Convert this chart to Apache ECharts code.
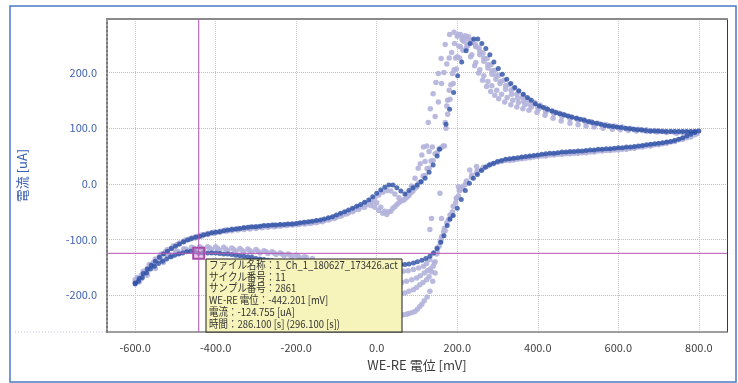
<!DOCTYPE html>
<html>
<head>
<meta charset="utf-8">
<script src="https://cdn.jsdelivr.net/npm/echarts@6/dist/echarts.min.js"></script>
<style>
  html, body { margin: 0; padding: 0; background: #fff; }
  #chart { width: 738px; height: 383px; }
</style>
</head>
<body>
<div id="chart"></div>
<script>
// values: [potential mV, current uA]

// current cycle (dark), forward sweep -600 -> 800
const darkForward = [
  [-600,-178],[-590,-170],[-580,-161],[-570,-153],[-560,-146],[-550,-139],[-540,-132],[-530,-126],[-520,-121],[-510,-116],
  [-500,-112],[-490,-108],[-480,-104],[-470,-101],[-460,-98],[-450,-96],[-440,-94],[-430,-92],[-420,-90],[-410,-88],
  [-400,-87],[-390,-86],[-380,-84],[-370,-83],[-360,-82],[-350,-81],[-340,-80],[-330,-79],[-320,-78],[-310,-77],
  [-300,-77],[-290,-76],[-280,-75],[-270,-75],[-260,-74],[-250,-74],[-240,-73],[-230,-73],[-220,-72],[-210,-72],
  [-200,-71],[-190,-70],[-180,-69],[-170,-68],[-160,-67],[-150,-66],[-140,-65],[-130,-63],[-120,-61],[-110,-59],
  [-100,-56],[-90,-53],[-80,-50],[-70,-47],[-60,-44],[-50,-40],[-40,-37],[-30,-33],[-20,-29],[-10,-23],
  [0,-17],[10,-11],[20,-6],[30,-2],[40,-2],[50,-7],[60,-13],[70,-18],[80,-12],[90,-7],
  [100,-2],[110,4],[120,10],[130,21],[140,34],[150,50],[156,62],[172,107],[181,134],[191,164],
  [201,194],[211,219],[222,239],[232,252],[241,260],[251,260],[261,252],[271,243],[281,232],[291,219],
  [302,207],[312,197],[323,188],[333,180],[343,173],[353,167],[364,161],[374,155],[384,150],[394,144],
  [404,140],[414,137],[424,134],[435,131],[445,128],[455,126],[465,124],[475,122],[485,120],[496,118],
  [506,116],[516,114],[526,112],[536,110],[546,109],[557,107],[567,105],[577,104],[587,103],[597,102],
  [607,101],[618,100],[628,99],[638,98],[648,97],[658,97],[668,96],[679,95],[689,95],[699,95],
  [709,94],[719,94],[730,94],[740,94],[750,94],[760,94],[770,94],[780,94],[790,94],[800,95]
];

// current cycle (dark), return sweep 800 -> -600
const darkReturn = [
  [790,92],[780,89],[770,86],[760,83],[750,80],[740,78],[730,76],[720,75],[710,74],[700,73],
  [690,72],[680,71],[670,70],[660,69],[650,68],[640,67],[630,66],[620,66],[610,65],[600,65],
  [590,64],[580,63],[570,63],[560,62],[550,62],[540,61],[530,61],[520,60],[510,59],[500,59],
  [490,58],[480,58],[470,57],[460,57],[450,56],[440,55],[430,55],[420,54],[410,53],[400,52],
  [390,51],[380,50],[370,49],[360,48],[350,47],[340,46],[330,45],[320,44],[310,42],[300,40],
  [290,37],[280,34],[270,30],[260,24],[250,17],[240,10],[230,1],[220,-12],[210,-28],[200,-44],
  [190,-57],[182,-63],[175,-75],[167,-93],[159,-105],[150,-116],[141,-124],[132,-130],[122,-134],[112,-137],
  [101,-140],[91,-142],[80,-144],[70,-145],[60,-145],[50,-146],[40,-146],[30,-147],[20,-147],[10,-147],
  [0,-147],[-20,-147],[-40,-146],[-60,-146],[-80,-145],[-100,-145],[-120,-144],[-140,-143],[-160,-143],[-180,-142],
  [-200,-141],[-220,-140],[-240,-139],[-260,-138],[-270,-137],[-280,-136],[-290,-135],[-300,-134],[-310,-132],[-320,-131],
  [-330,-130],[-340,-129],[-350,-128],[-360,-127],[-370,-126],[-380,-126],[-390,-125],[-400,-124],[-410,-124],[-420,-124],
  [-432,-124],[-442.201,-124.755],[-452,-122],[-462,-121],[-472,-122],[-482,-124],[-492,-126],[-502,-128],[-512,-131],[-522,-135],
  [-532,-139],[-542,-143],[-552,-148],[-562,-153],[-572,-160],[-582,-168],[-592,-175],[-600,-180]
];

// earlier cycles (light)
const lightUpperA = [
  [-595,-168],[-580,-157],[-565,-145],[-550,-135],[-535,-126],[-520,-118],[-505,-111],[-490,-106],[-475,-101],[-460,-97],
  [-445,-94],[-430,-91],[-415,-89],[-400,-87],[-385,-85],[-370,-84],[-355,-82],[-340,-81],[-325,-80],[-310,-79],
  [-295,-78],[-280,-77],[-265,-76],[-250,-76],[-235,-75],[-220,-74],[-205,-73],[-190,-72],[-175,-71],[-160,-70],
  [-145,-68],[-130,-66],[-115,-63],[-100,-60],[-85,-56],[-70,-52],[-55,-47],[-40,-42],[-25,-37],[-10,-33],
  [0,-34],[10,-42],[20,-49],[30,-50],[40,-44],[50,-37],[60,-31],[70,-27],[80,-21],[90,-13],
  [100,-5],[110,4],[120,15],[130,28],[140,42],[150,56],[160,65],[168,68],[172,100],[176,125],
  [182,152],[190,180],[198,206],[206,226],[214,240],[224,250],[234,254],[244,251],[254,244],[264,235],
  [274,225],[284,214],[294,204],[304,195],[316,186],[328,178],[340,171],[352,165],[364,159],[378,152],
  [392,146],[406,141],[420,136],[436,131],[452,127],[468,123],[484,119],[500,116],[516,113],[532,110],
  [548,108],[564,106],[580,104],[600,101],[620,99],[640,98],[660,96],[680,95],[700,94],[720,93],
  [740,93],[760,93],[780,93],[798,94]
];

const lightUpperB = [
  [-585,-171],[-570,-158],[-555,-146],[-540,-134],[-525,-124],[-510,-116],[-495,-109],[-480,-104],[-465,-99],[-450,-95],
  [-435,-92],[-420,-89],[-405,-87],[-390,-85],[-375,-83],[-360,-81],[-345,-80],[-330,-79],[-315,-78],[-300,-77],
  [-285,-76],[-270,-75],[-255,-74],[-240,-74],[-225,-73],[-210,-72],[-195,-71],[-180,-70],[-165,-69],[-150,-67],
  [-135,-65],[-120,-62],[-105,-59],[-90,-55],[-75,-51],[-60,-46],[-45,-41],[-30,-35],[-15,-29],[-5,-25],
  [5,-20],[15,-15],[25,-12],[35,-13],[45,-18],[55,-25],[65,-30],[75,-24],[85,-16],[95,-8],
  [105,2],[115,14],[125,27],[135,41],[145,54],[155,63],[165,68],[170,110],[174,140],[180,168],
  [188,198],[196,226],[204,247],[212,260],[220,266],[228,264],[236,258],[246,246],[256,232],[266,220],
  [276,208],[286,197],[296,188],[306,180],[320,170],[335,161],[350,154],[365,148],[380,143],[400,137],
  [420,131],[440,126],[460,121],[480,117],[500,114],[520,110],[540,107],[560,105],[580,103],[600,101],
  [620,99],[640,97],[660,96],[680,95],[700,94],[720,93],[740,92],[760,92],[780,92],[796,93]
];

const lightUpperC = [
  [-600,-176],[-585,-164],[-570,-152],[-555,-141],[-540,-131],[-525,-122],[-510,-115],[-495,-109],[-480,-104],[-465,-100],
  [-450,-97],[-435,-94],[-420,-91],[-405,-89],[-390,-87],[-375,-85],[-360,-84],[-345,-83],[-330,-82],[-315,-81],
  [-300,-80],[-285,-79],[-270,-78],[-255,-77],[-240,-76],[-225,-75],[-210,-74],[-195,-73],[-180,-72],[-165,-71],
  [-150,-70],[-135,-68],[-120,-65],[-105,-62],[-90,-58],[-75,-54],[-60,-50],[-45,-46],[-30,-42],[-15,-39],
  [-5,-42],[5,-48],[15,-53],[25,-55],[35,-49],[45,-41],[55,-34],[66,-29],[76,-18],[86,-4],
  [95,10],[103,28],[108,36],[112,52],[116,66],[124,68],[128,110],[133,135],[140,162],[147,182],
  [153,198],[160,225],[170,250],[181,268],[192,272],[203,268],[213,258],[223,244],[233,228],[243,212],
  [253,199],[263,186],[273,175],[283,166],[293,159],[303,153],[318,147],[333,142],[348,138],[363,135],
  [378,132],[398,128],[418,123],[438,118],[458,113],[480,109],[500,106],[520,104],[540,102],[562,100],
  [585,98],[605,97],[625,96],[645,95],[670,94],[695,93],[720,92],[745,91],[770,91],[795,92]
];

const lightUpperD = [
  [120,40],[130,58],[138,66],[145,121],[153,147],[161,180],[167,200],[174,215],[180,226],[186,236],
  [193,252],[200,265],[208,268],[216,262],[226,248],[236,232],[246,218],[256,205],[266,194],[276,184],
  [286,176],[298,168],[310,161],[324,155],[338,150],[352,146],[368,142],[384,138],[402,134],[420,129]
];

const lightUpperE = [
  [176,150],[184,178],[192,205],[200,228],[208,246],[216,256],[226,260],[236,256],[246,248],[256,238],
  [266,226],[276,214],[286,203],[296,194],[308,184],[320,176],[334,168],[348,161],[362,155],[376,150],
  [392,144],[408,139],[424,134],[442,129],[460,125],[478,121],[496,118],[514,115],[532,112],[550,109],
  [570,106],[590,104],[610,102],[630,100],[650,98],[670,97],[690,96],[710,95],[730,94],[750,93],
  [770,93],[790,93]
];

const lightLowerLeft1 = [
  [-600,-172],[-580,-160],[-560,-148],[-540,-137],[-520,-128],[-500,-122],[-480,-117],[-460,-114],[-440,-113],[-420,-113],
  [-400,-113],[-380,-114],[-360,-115],[-340,-116],[-320,-117],[-300,-118],[-280,-120],[-260,-122],[-240,-124],[-220,-126],
  [-200,-128],[-180,-131],[-160,-134]
];

const lightLowerLeft2 = [
  [-590,-176],[-570,-164],[-550,-152],[-530,-141],[-510,-131],[-490,-124],[-470,-119],[-450,-118],[-430,-118],[-410,-118],
  [-390,-119],[-370,-120],[-350,-121],[-330,-122],[-310,-123],[-290,-124],[-270,-125],[-250,-127],[-230,-129],[-210,-131],
  [-190,-133]
];

const lightLowerLeft3 = [
  [-595,-174],[-575,-160],[-555,-147],[-535,-136],[-515,-127],[-495,-121],[-475,-117],[-455,-115],[-435,-115],[-415,-115],
  [-395,-116],[-375,-117],[-355,-118],[-335,-119],[-315,-120],[-295,-121],[-275,-122],[-255,-124],[-235,-126],[-215,-128],
  [-195,-130],[-175,-132]
];

const lightReturnA = [
  [795,90],[780,86],[760,81],[740,77],[720,74],[700,71],[680,69],[660,67],[640,65],[620,63],
  [600,62],[580,61],[560,60],[540,58],[520,57],[500,56],[480,55],[460,54],[440,53],[420,51],
  [400,50],[380,48],[360,46],[340,44],[320,42],[300,39],[282,35],[265,30],[250,24],[236,16],
  [223,5],[212,-8],[203,-22],[196,-34],[188,-50],[180,-64],[170,-84],[160,-100],[150,-115],[142,-124],
  [132,-136],[124,-143],[116,-148],[104,-151],[91,-154],[78,-156],[66,-157],[54,-158],[42,-158]
];

const lightReturnB = [
  [790,88],[770,83],[750,79],[730,75],[710,72],[690,70],[670,68],[650,66],[630,64],[610,62],
  [590,61],[570,60],[550,59],[530,57],[510,56],[490,55],[470,54],[450,53],[430,52],[410,50],
  [390,48],[370,46],[350,44],[330,42],[310,40],[290,36],[275,32],[262,26],[248,20],[235,12],
  [222,2],[212,-6],[205,-12],[198,-26],[190,-40],[182,-56],[174,-70],[166,-86],[158,-104],[150,-122],
  [145,-140],[140,-148],[133,-153],[126,-156],[118,-160],[108,-165],[99,-169],[87,-172],[74,-175],[62,-177],
  [50,-178]
];

const lightReturnC = [
  [178,-65],[168,-80],[161,-95],[155,-112],[149,-126],[143,-142],[136,-158],[130,-167],[124,-172],[115,-177],
  [107,-181],[99,-186],[91,-190],[80,-193],[70,-196],[58,-198]
];

const lightReturnD = [
  [145,-160],[139,-175],[132,-193],[125,-203],[118,-210],[112,-216],[107,-220],[101,-225],[95,-229],[88,-231],
  [80,-233],[74,-234],[66,-235],[58,-236]
];

const lightReturnE = [
  [780,84],[760,80],[740,76],[720,73],[700,70],[680,68],[660,66],[640,64],[620,62],[600,61],
  [580,60],[560,59],[540,57],[520,56],[500,55],[480,54],[460,53],[440,52],[420,50],[400,49],
  [380,47],[360,45],[340,43]
];

const lightStray = [
  [136,-62],[132,-82],[157,-17],[161,-62],[186,-56],[198,-26],[207,-11],[219,-2],[203,-5],[231,25],[248,31]
];

const cursorPoint = [-442.201, -124.755];

const xTicks = [-600, -400, -200, 0, 200, 400, 600, 800];
const yTicks = [-200, -100, 0, 100, 200];

const tipLines = [
  'ファイル名称：1_Ch_1_180627_173426.act',
  'サイクル番号：11',
  'サンプル番号：2861',
  'WE-RE 電位：-442.201 [mV]',
  '電流：-124.755 [uA]',
  '時間：286.100 [s] (296.100 [s])'
];

const FONT = '"Noto Sans CJK JP", "Noto Sans", sans-serif';
const CURSOR = '#b555b5';

const lightData = [].concat(
  lightUpperA, lightUpperB, lightUpperC, lightUpperD, lightUpperE,
  lightLowerLeft1, lightLowerLeft2, lightLowerLeft3,
  lightReturnA, lightReturnB, lightReturnC, lightReturnD, lightReturnE, lightStray
);
const darkData = darkForward.concat(darkReturn);

const chart = echarts.init(document.getElementById('chart'), null, { renderer: 'canvas' });

const xMin = -670, xMax = 870, yMin = -266, yMax = 296;
const GRID = { left: 107, right: 11, top: 19, bottom: 51 };

chart.setOption({
  animation: false,
  textStyle: { fontFamily: FONT },
  grid: GRID,
  xAxis: [{
    type: 'value',
    min: xMin, max: xMax,
    name: 'WE-RE 電位 [mV]',
    nameLocation: 'middle',
    nameGap: 27,
    nameTextStyle: { color: '#3c3c3c', fontSize: 13, fontFamily: FONT },
    axisLine: { onZero: false, lineStyle: { color: '#808080', width: 1.5 } },
    axisTick: { show: false, customValues: xTicks },
    axisLabel: {
      customValues: xTicks,
      color: '#404040', fontSize: 11, margin: 10,
      formatter: (v) => v.toFixed(1)
    },
    splitLine: { show: true, lineStyle: { color: '#c8c8c8', type: 'dotted', width: 1 } }
  }, {
    type: 'value', position: 'top', min: xMin, max: xMax,
    axisLine: { show: true, onZero: false, lineStyle: { color: '#8a8a8a', width: 2 } },
    axisTick: { show: false }, axisLabel: { show: false }, splitLine: { show: false }
  }],
  yAxis: [{
    type: 'value',
    min: yMin, max: yMax,
    name: '電流 [uA]',
    nameLocation: 'middle',
    nameGap: 78,
    nameTextStyle: { color: '#3a5fb0', fontSize: 13, fontFamily: FONT },
    axisLine: { onZero: false, lineStyle: { color: '#7a7a7a', width: 2, type: 'dotted' } },
    axisTick: { show: false, customValues: yTicks },
    axisLabel: {
      customValues: yTicks,
      color: '#4060b0', fontSize: 11, margin: 10,
      formatter: (v) => v.toFixed(1)
    },
    splitLine: { show: true, lineStyle: { color: '#b4bce0', type: 'dotted', width: 1 } }
  }, {
    type: 'value', position: 'right', min: yMin, max: yMax,
    axisLine: { show: true, onZero: false, lineStyle: { color: '#3a3a3a', width: 1 } },
    axisTick: { show: false }, axisLabel: { show: false }, splitLine: { show: false }
  }],
  series: [{
    type: 'scatter',
    data: lightData,
    symbolSize: 5.5,
    itemStyle: { color: '#b3b3dc', opacity: 0.9 },
    silent: true
  }, {
    type: 'scatter',
    data: darkData,
    symbolSize: 5,
    z: 3,
    itemStyle: { color: '#2b4fa5' },
    silent: true,
    markPoint: {
      silent: true,
      symbol: 'rect',
      symbolSize: 11,
      z: 6,
      label: { show: false },
      itemStyle: { color: 'rgba(214,160,214,0.55)', borderColor: '#a84aa8', borderWidth: 2 },
      data: [{ coord: cursorPoint }]
    }
  }],
  graphic: [{
    id: 'frame',
    type: 'rect',
    shape: { x: 10, y: 6, width: 726, height: 376 },
    style: { fill: 'none', stroke: '#4a78c8', lineWidth: 1.5 },
    silent: true
  }, {
    id: 'baseExt',
    type: 'line',
    shape: { x1: 15, y1: 332, x2: 107, y2: 332 },
    style: { stroke: '#b4bce0', lineWidth: 1, lineDash: [1, 2] },
    silent: true
  }, {
    id: 'tipBox',
    type: 'rect',
    z: 100,
    shape: { x: 206, y: 259, width: 196, height: 73 },
    style: { fill: '#f6f4bb', stroke: '#1e1e1e', lineWidth: 1 },
    silent: true
  }, {
    id: 'tipText',
    type: 'text',
    z: 101,
    x: 209, y: 259,
    scaleX: 0.86,
    style: {
      text: tipLines.join('\n'),
      fill: '#333333',
      font: '11px ' + FONT,
      lineHeight: 11.7
    },
    silent: true
  }]
});

// cursor crosshair, placed through the chart's own scales
// (a horizontal markLine came out grey in this build)
const [cx, cy] = chart.convertToPixel({ seriesIndex: 1 }, cursorPoint);
const plotLeft = GRID.left, plotRight = 738 - GRID.right;
const plotTop = GRID.top, plotBottom = 383 - GRID.bottom;

chart.setOption({
  graphic: [{
    id: 'cursorV',
    type: 'line',
    z: 50,
    shape: { x1: cx, y1: plotTop, x2: cx, y2: plotBottom },
    style: { stroke: CURSOR, lineWidth: 1 },
    silent: true
  }, {
    id: 'cursorH',
    type: 'line',
    z: 50,
    shape: { x1: plotLeft, y1: cy, x2: plotRight, y2: cy },
    style: { stroke: CURSOR, lineWidth: 1 },
    silent: true
  }]
});
</script>
</body>
</html>
